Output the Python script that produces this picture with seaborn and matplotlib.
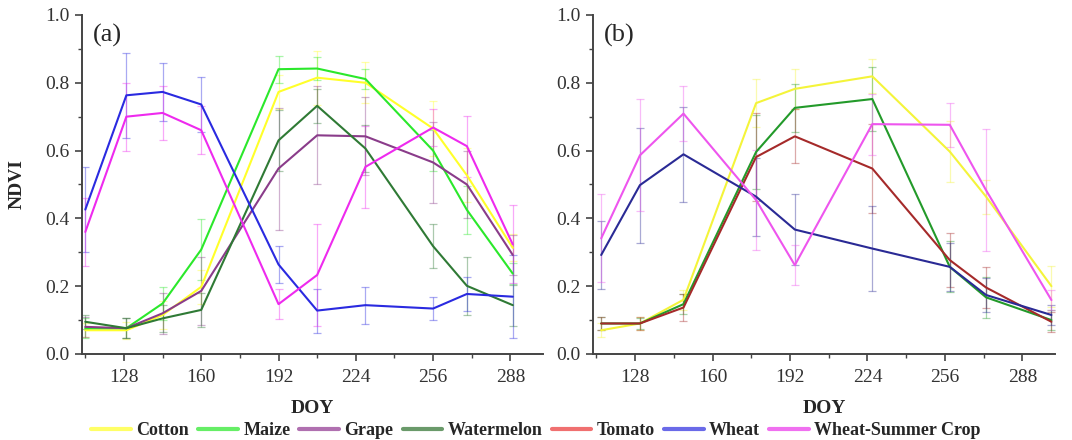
import numpy as np
import pandas as pd
import seaborn as sns
import matplotlib
matplotlib.use('Agg')
import matplotlib.pyplot as plt
from matplotlib.lines import Line2D
from matplotlib.ticker import MultipleLocator

# panel (a) NDVI profiles
doy_a = [112, 129, 144, 160, 192, 208, 228, 256, 270, 289]
cotton_a = [0.07, 0.07, 0.115, 0.198, 0.773, 0.815, 0.80, 0.665, 0.527, 0.313]
maize_a = [0.076, 0.076, 0.149, 0.308, 0.84, 0.842, 0.811, 0.60, 0.425, 0.237]
grape_a = [0.08, 0.076, 0.12, 0.186, 0.547, 0.645, 0.642, 0.565, 0.50, 0.292]
watermelon_a = [0.095, 0.076, 0.105, 0.13, 0.63, 0.732, 0.606, 0.318, 0.201, 0.144]
wheat_a = [0.426, 0.763, 0.773, 0.736, 0.264, 0.128, 0.144, 0.134, 0.177, 0.169]
wsc_a = [0.36, 0.70, 0.711, 0.66, 0.147, 0.233, 0.552, 0.668, 0.613, 0.323]

cotton_a_sd = [0.02, 0.025, 0.04, 0.05, 0.05, 0.08, 0.06, 0.08, 0.08, 0.04]
maize_a_sd = [0.03, 0.03, 0.05, 0.09, 0.04, 0.035, 0.03, 0.06, 0.07, 0.03]
grape_a_sd = [0.03, 0.03, 0.06, 0.10, 0.18, 0.145, 0.115, 0.12, 0.10, 0.06]
watermelon_a_sd = [0.02, 0.03, 0.04, 0.05, 0.09, 0.05, 0.07, 0.065, 0.085, 0.06]
wheat_a_sd = [0.125, 0.125, 0.085, 0.08, 0.055, 0.065, 0.055, 0.033, 0.05, 0.123]
wsc_a_sd = [0.10, 0.10, 0.08, 0.07, 0.045, 0.15, 0.12, 0.055, 0.09, 0.115]

# panel (b) NDVI profiles
doy_b = [114, 130, 148, 178, 194, 226, 258, 273, 300]
cotton_b = [0.07, 0.09, 0.16, 0.74, 0.782, 0.819, 0.597, 0.464, 0.20]
watermelon_b = [0.09, 0.09, 0.147, 0.596, 0.726, 0.752, 0.257, 0.167, 0.10]
tomato_b = [0.09, 0.09, 0.137, 0.581, 0.642, 0.547, 0.277, 0.196, 0.095]
wheat_b = [0.292, 0.498, 0.589, 0.464, 0.367, 0.311, 0.257, 0.174, 0.115]
wsc_b = [0.341, 0.586, 0.709, 0.454, 0.262, 0.678, 0.676, 0.483, 0.159]

cotton_b_sd = [0.02, 0.02, 0.03, 0.07, 0.06, 0.05, 0.09, 0.05, 0.06]
watermelon_b_sd = [0.02, 0.015, 0.03, 0.11, 0.07, 0.095, 0.075, 0.06, 0.03]
tomato_b_sd = [0.02, 0.02, 0.04, 0.13, 0.08, 0.13, 0.08, 0.06, 0.03]
wheat_b_sd = [0.10, 0.17, 0.14, 0.115, 0.105, 0.125, 0.07, 0.05, 0.03]
wsc_b_sd = [0.13, 0.165, 0.08, 0.148, 0.06, 0.09, 0.065, 0.18, 0.03]

crops = ['Cotton', 'Maize', 'Grape', 'Watermelon', 'Tomato', 'Wheat', 'Wheat-Summer Crop']
legend_colors = ['#ffff66', '#66ee66', '#b070b0', '#6a9a6a', '#f07070', '#6a6ae8', '#f070f0']

pal_a = {'Cotton': '#ffff2a', 'Maize': '#2be82b', 'Grape': '#8a3c8a', 'Watermelon': '#2f7a35',
         'Wheat': '#2a2ae0', 'Wheat-Summer Crop': '#ee2aee'}
pal_b = {'Cotton': '#f4f43a', 'Watermelon': '#239a2a', 'Tomato': '#a52a2a',
         'Wheat': '#2a2a95', 'Wheat-Summer Crop': '#ee55ee'}

series_a = {'Cotton': (cotton_a, cotton_a_sd), 'Maize': (maize_a, maize_a_sd),
            'Grape': (grape_a, grape_a_sd), 'Watermelon': (watermelon_a, watermelon_a_sd),
            'Wheat': (wheat_a, wheat_a_sd), 'Wheat-Summer Crop': (wsc_a, wsc_a_sd)}
series_b = {'Cotton': (cotton_b, cotton_b_sd), 'Watermelon': (watermelon_b, watermelon_b_sd),
            'Tomato': (tomato_b, tomato_b_sd), 'Wheat': (wheat_b, wheat_b_sd),
            'Wheat-Summer Crop': (wsc_b, wsc_b_sd)}


def to_long(doy, series):
	rows = []
	for crop, (vals, sds) in series.items():
		for d, v, s in zip(doy, vals, sds):
			rows.append({'DOY': d, 'NDVI': v, 'sd': s, 'Crop': crop})
	return pd.DataFrame(rows)


sns.set_style('ticks')
plt.rcParams['font.family'] = ['Liberation Serif', 'DejaVu Serif']
plt.rcParams['axes.edgecolor'] = '#444444'
plt.rcParams['xtick.color'] = '#444444'
plt.rcParams['ytick.color'] = '#444444'
plt.rcParams['xtick.labelcolor'] = '#333333'
plt.rcParams['ytick.labelcolor'] = '#333333'

fig = plt.figure(figsize=(10.72, 4.4), dpi=100)
ax_a = fig.add_axes([0.0762, 0.1955, 0.4303, 0.7705])
ax_b = fig.add_axes([0.5529, 0.1955, 0.4313, 0.7705])

for ax, doy, series, pal, tag in [(ax_a, doy_a, series_a, pal_a, '(a)'),
                                  (ax_b, doy_b, series_b, pal_b, '(b)')]:
	df = to_long(doy, series)
	for crop in series:
		sub = df[df['Crop'] == crop]
		ax.errorbar(sub['DOY'], sub['NDVI'], yerr=sub['sd'], fmt='none',
		            ecolor=pal[crop], alpha=0.4, elinewidth=0.9, capsize=3, capthick=0.9)
	sns.lineplot(data=df, x='DOY', y='NDVI', hue='Crop', palette=pal, ax=ax,
	             legend=False, linewidth=1.5, errorbar=None)
	ax.set_xlim(110.5, 301.5)
	ax.set_ylim(0, 1.0)
	ax.xaxis.set_minor_locator(MultipleLocator(16))
	ax.yaxis.set_major_locator(MultipleLocator(0.2))
	ax.yaxis.set_minor_locator(MultipleLocator(0.1))
	ax.set_xticks([128, 160, 192, 224, 256, 288])
	ax.yaxis.set_major_formatter(matplotlib.ticker.FormatStrFormatter('%.1f'))
	ax.tick_params(axis='both', which='major', labelsize=14, length=5, width=1.2, direction='out')
	ax.tick_params(axis='x', which='major', pad=6)
	ax.tick_params(axis='both', which='minor', length=3, width=1.0, direction='out')
	for sp in ['top', 'right']:
		ax.spines[sp].set_visible(False)
	for sp in ['left', 'bottom']:
		ax.spines[sp].set_linewidth(1.4)
	ax.set_xlabel('DOY', fontsize=14, fontweight='bold', labelpad=10)
	ax.set_ylabel('')
	ax.text(0.025, 0.975, tag, transform=ax.transAxes, fontsize=19, va='top', ha='left')

ax_a.set_ylabel('NDVI', fontsize=14, fontweight='bold', labelpad=14)

handles = [Line2D([0], [0], color=c, lw=3) for c in legend_colors]
fig.legend(handles, crops, loc='lower center', bbox_to_anchor=(0.5, -0.035), ncol=7,
           frameon=False, prop={'weight': 'bold', 'size': 13}, handlelength=2.2,
           handletextpad=0.3, columnspacing=0.5)

plt.savefig('out.png', dpi=100)
plt.close(fig)
